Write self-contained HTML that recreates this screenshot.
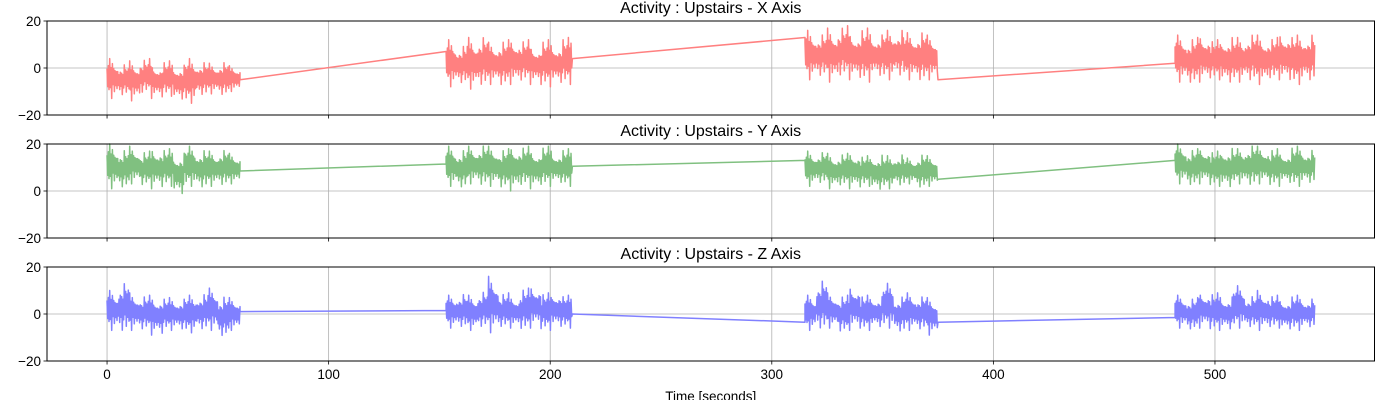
<!DOCTYPE html>
<html><head><meta charset="utf-8">
<style>
html,body{margin:0;padding:0;background:#fff;}
svg text{font-family:"Liberation Sans","DejaVu Sans",sans-serif;fill:#000;}
</style></head>
<body>
<svg id="chart" width="1400" height="400" viewBox="0 0 1400 400" xmlns="http://www.w3.org/2000/svg"></svg>
<script>
// ---- data ----
const xTicks = [0, 100, 200, 300, 400, 500];
const yTicks = [20, 0, -20];
const axisTitles = ["Activity : Upstairs - X Axis", "Activity : Upstairs - Y Axis", "Activity : Upstairs - Z Axis"];
const segStarts = [0, 153, 315, 482];
const segEnds = [60, 210, 375, 545];
// per-segment envelopes (12 bins each), [axis][segment]
const xHi = [[4,2,3,4,2,3,2,4,3,2,3,1],[12,10,13,14,11,12,13,12,10,12,11,13],[16,15,17,18,16,17,15,16,17,15,16,14],[14,13,15,12,14,13,15,14,13,16,14,15]];
const xLo = [[-13,-12,-14,-11,-13,-12,-14,-15,-12,-11,-12,-10],[-8,-7,-9,-8,-7,-8,-7,-6,-7,-8,-7,-7],[-5,-4,-6,-4,-5,-6,-4,-5,-4,-5,-6,-5],[-6,-7,-6,-5,-7,-6,-6,-7,-5,-6,-7,-6]];
const yHi = [[20,18,19,17,19,18,17,19,18,17,18,16],[19,18,19,20,19,18,20,19,18,19,17,18],[17,17,16,16,17,15,16,15,16,14,16,15],[20,18,19,17,19,18,20,19,18,17,19,18]];
const yLo = [[1,1,3,2,1,2,-2,2,1,2,2,3],[2,1,3,2,2,1,0,2,1,2,3,2],[2,3,1,2,1,2,0,1,2,3,1,2],[3,2,3,2,1,3,2,3,2,3,2,3]];
const zHi = [[10,14,9,8,8,7,7,8,9,11,8,7],[8,9,8,10,16,9,8,11,13,9,10,8],[8,15,9,8,13,8,8,13,8,9,8,7],[8,7,10,9,8,12,8,10,8,7,8,7]];
const zLo = [[-7,-8,-7,-7,-9,-7,-7,-8,-7,-7,-10,-7],[-6,-6,-7,-6,-8,-6,-6,-7,-6,-7,-6,-6],[-7,-7,-6,-8,-7,-7,-6,-6,-8,-7,-7,-9],[-6,-7,-6,-7,-7,-6,-6,-7,-6,-7,-7,-6]];
// connecting values: end of segment i and start of segment i+1
const xEnd = [-5, 4, -5];  const xNext = [7, 13, 2];
const yEnd = [8.5, 10.5, 5]; const yNext = [11.5, 13, 13];
const zEnd = [1, 0, -3.5]; const zNext = [1.5, -3.5, -1.5];

const his = [xHi, yHi, zHi], los = [xLo, yLo, zLo];
const ends = [xEnd, yEnd, zEnd], nexts = [xNext, yNext, zNext];
const colors = ["#ff8080", "#80c080", "#8080ff"];

// ---- layout ----
const L = 47, R = 1374.5;
const tops = [21, 144, 267], H = 94;
const xMin = -27.1, xMax = 572.0;
const sx = v => L + (v - xMin) / (xMax - xMin) * (R - L);
const syFor = t => v => t + (20 - v) / 40 * H;

const svg = document.getElementById('chart');
const NS = "http://www.w3.org/2000/svg";
function mk(tag, attrs, parent) {
  const e = document.createElementNS(NS, tag);
  for (const k in attrs) e.setAttribute(k, attrs[k]);
  (parent || svg).appendChild(e);
  return e;
}
const pattern = [0.5, 0.35, 0.65, 0.3, 1, 0.45, 0.55, 0.4, 0.75, 0.3, 0.5, 0.9, 0.4, 0.6, 0.35];

for (let a = 0; a < 3; a++) {
  const t = tops[a], sy = syFor(t);
  const g = mk('g', {});
  
  
  xTicks.forEach(v => {
    const ln = mk('line', {x1: sx(v), x2: sx(v), y1: t, y2: t + H, stroke: '#b0b0b0', 'stroke-width': 0.8}, g);
    
    
  });
  const gy = mk('line', {x1: L, x2: R, y1: sy(0), y2: sy(0), stroke: '#b0b0b0', 'stroke-width': 0.8}, g);
  
  
  let pts = [];
  for (let s = 0; s < 4; s++) {
    const hi = his[a][s], lo = los[a][s];
    const s0 = segStarts[s], s1 = segEnds[s];
    const n = hi.length, bw = (s1 - s0) / n;
    let k = 0;
    for (let tt = s0; tt <= s1; tt += 0.3, k++) {
      const b = Math.min(n - 1, Math.floor((tt - s0) / bw));
      const mid = (hi[b] + lo[b]) / 2;
      const v = (k % 2 === 0) ? mid + (hi[b] - mid) * pattern[k % pattern.length]
                              : mid + (lo[b] - mid) * pattern[(k * 7) % pattern.length];
      pts.push(sx(tt).toFixed(1) + ',' + sy(v).toFixed(1));
    }
    if (s < 3) {
      pts.push(sx(s1).toFixed(1) + ',' + sy(ends[a][s]).toFixed(1));
      pts.push(sx(segStarts[s + 1]).toFixed(1) + ',' + sy(nexts[a][s]).toFixed(1));
    }
  }
  const pl = mk('polyline', {points: pts.join(' '), fill: 'none', stroke: colors[a], 'stroke-width': 1.5, 'stroke-linejoin': 'round'}, g);
  
  
  const fr = mk('rect', {x: L, y: t, width: R - L, height: H, fill: 'none', stroke: '#000', 'stroke-width': 1}, g);
  
  
  yTicks.forEach(v => {
    mk('line', {x1: L - 3.5, x2: L, y1: sy(v), y2: sy(v), stroke: '#000', 'stroke-width': 0.8}, g);
    const tx = mk('text', {x: L - 6, y: sy(v) + 5, 'text-anchor': 'end', 'font-size': 13.5}, g);
    tx.textContent = v < 0 ? '\u2212' + Math.abs(v) : String(v);
    
    
  });
  xTicks.forEach(v => {
    mk('line', {x1: sx(v), x2: sx(v), y1: t + H, y2: t + H + 3.5, stroke: '#000', 'stroke-width': 0.8}, g);
    if (a === 2) {
      const tx = mk('text', {x: sx(v), y: t + H + 18, 'text-anchor': 'middle', 'font-size': 13.5}, g);
      tx.textContent = String(v);
      
      
    }
  });
  const ti = mk('text', {x: (L + R) / 2, y: t - 8, 'text-anchor': 'middle', 'font-size': 16}, g);
  ti.textContent = axisTitles[a];
  
  
}
const xl = mk('text', {x: (L + R) / 2, y: 401, 'text-anchor': 'middle', 'font-size': 13.5});
xl.textContent = 'Time [seconds]';


</script>
</body></html>
